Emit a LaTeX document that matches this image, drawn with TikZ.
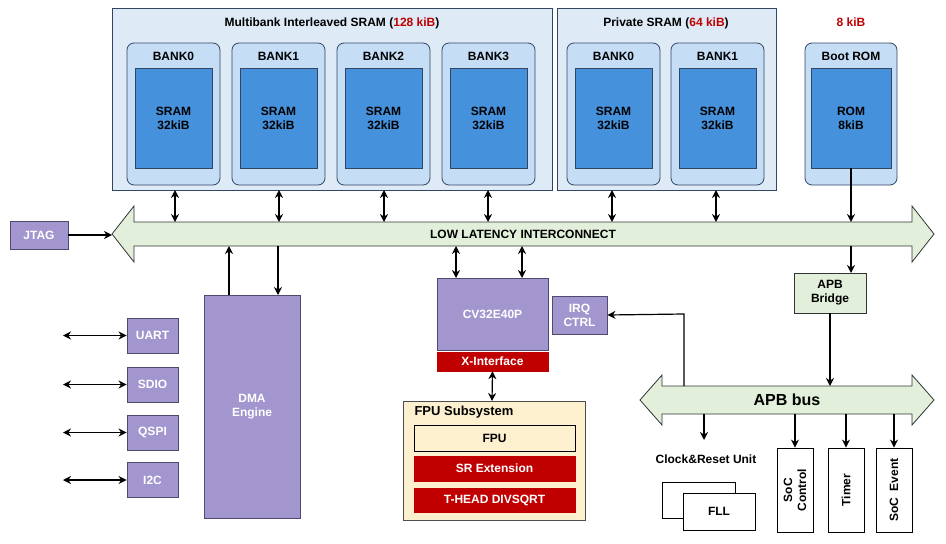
\documentclass[tikz,border=0pt]{standalone}
\usepackage{fontspec}
\setmainfont{Liberation Sans}
\usetikzlibrary{arrows.meta}
\definecolor{pur}{RGB}{163,149,205}
\definecolor{purd}{RGB}{80,75,110}
\definecolor{lb}{RGB}{222,234,246}
\definecolor{mb}{RGB}{197,221,245}
\definecolor{db}{RGB}{70,145,220}
\definecolor{bord}{RGB}{50,70,100}
\definecolor{rd}{RGB}{192,0,0}
\definecolor{grn}{RGB}{226,239,218}
\definecolor{yel}{RGB}{253,240,207}
\begin{document}
\begin{tikzpicture}[x=1pt,y=-1pt,font=\bfseries\fontsize{12}{14}\selectfont,
 pbox/.style={draw=purd,fill=pur,text=white,line width=0.9pt,align=center},
 rbox/.style={draw=rd,fill=rd,text=white,align=center},
 wbox/.style={draw=black,fill=white,line width=0.9pt,align=center},
 arr/.style={-{Stealth[length=8pt,width=8pt]},line width=1.2pt},
 darr/.style={{Stealth[length=8pt,width=8pt]}-{Stealth[length=8pt,width=8pt]},line width=1.2pt},
 bank/.style={draw=bord,fill=mb,rounded corners=7pt,line width=0.8pt},
 sram/.style={draw=bord,fill=db,line width=0.8pt,align=center},
 busst/.style={draw=black!80,fill=grn,line width=0.8pt}]
\useasboundingbox (0,0) rectangle (946,544);
% SRAM groups
\draw[fill=lb,draw=bord,line width=0.8pt] (112,8) rectangle (552,190);
\node at (332,23) {Multibank Interleaved SRAM (\textcolor{rd}{128 kiB})};
\draw[fill=lb,draw=bord,line width=0.8pt] (557,8) rectangle (776,190);
\node at (666,23) {Private SRAM (\textcolor{rd}{64 kiB})};
\node[text=rd] at (851,22) {8 kiB};
\foreach \x/\n/\t in {127/a/BANK0,232/b/BANK1,337/c/BANK2,442/d/BANK3,567/e/BANK0,671/f/BANK1}{
 \draw[bank] (\x,43) rectangle (\x+93,185);
 \node at (\x+46.5,56) {\t};
 \node[sram,minimum width=77pt,minimum height=100pt] (s\n) at (\x+46.5,118) {SRAM\\32kiB};
}
\draw[bank] (805,43) rectangle (897,185);
\node at (851,56) {Boot ROM};
\node[sram,minimum width=80pt,minimum height=100pt] (rom) at (851,118) {ROM\\8kiB};
% interconnect
\draw[busst] (112,234) -- (134,206) -- (134,222) -- (912,222) -- (912,206) -- (934,234) -- (912,262) -- (912,246) -- (134,246) -- (134,262) -- cycle;
\node (bus) at (523,234) {LOW LATENCY INTERCONNECT};
\foreach \x/\n in {175/a,279/b,384/c,488/d,612/e,716/f}{
 \draw[darr] (\x,190) -- (\x,222);
}
\draw[arr] (rom.south) -- (851,222);
\node[pbox,minimum width=58pt,minimum height=28pt] (jtag) at (39,235) {JTAG};
\draw[arr] (jtag.east) -- (112,235);
% DMA
\node[pbox,minimum width=96pt,minimum height=223pt] (dma) at (252,406.5) {DMA\\Engine};
\draw[arr] (229,295) -- (229,246);
\draw[arr] (278,246) -- (278,295);
\foreach \y/\t/\n in {335.5/UART/u,384.5/SDIO/s,432.5/QSPI/q,480/I2C/i}{
 \node[pbox,minimum width=51pt,minimum height=35pt] (\n) at (152.5,\y) {\t};
 \coordinate (\n l) at (63,\y);
 \draw[darr] (\n l) -- (\n.west);
}
% CPU
\node[pbox,minimum width=111pt,minimum height=72pt] (cpu) at (492.5,314) {CV32E40P};
\draw[darr] (456,246) -- (456,278);
\draw[darr] (522,246) -- (522,278);
\node[pbox,minimum width=55pt,minimum height=38pt,inner sep=1pt] (irq) at (579.5,315) {IRQ\\CTRL};
\node[rbox,minimum width=111pt,minimum height=19pt,inner sep=0pt] (xif) at (492.5,361.5) {X-Interface};
\draw[fill=yel,draw=black!70,line width=0.8pt] (403,401) rectangle (585,520);
\node[anchor=west,font=\bfseries\fontsize{13}{15}\selectfont] at (411,412) {FPU Subsystem};
\draw[darr] (xif.south) -- (492,401);
\node[draw=black,fill=yel,line width=0.8pt,minimum width=161pt,minimum height=26pt] (fpu) at (494.5,438) {FPU};
\node[rbox,minimum width=161pt,minimum height=25pt] (sr) at (494.5,468.5) {SR Extension};
\node[rbox,minimum width=161pt,minimum height=24pt] (th) at (494.5,500) {T-HEAD DIVSQRT};
% APB
\node[draw=black!80,fill=grn,line width=0.8pt,minimum width=72pt,minimum height=40pt,align=center] (br) at (830,293) {APB\\Bridge};
\draw[arr] (851,246) -- (851,273);
\draw[busst] (640,400) -- (662,375) -- (662,386) -- (912,386) -- (912,375) -- (934,400) -- (912,425) -- (912,414) -- (662,414) -- (662,425) -- cycle;
\node[font=\bfseries\fontsize{16}{18}\selectfont] (apb) at (787,400) {APB bus};
\draw[arr] (br.south) -- (830,386);
\draw[arr] (684,386) -- (684,314) -- (irq.east);
\draw[arr] (704,414) -- (704,440);
\node at (706,459) {Clock\&Reset Unit};
\draw[wbox] (662,482) rectangle (735,518);
\node[wbox,minimum width=72pt,minimum height=37pt] (fll) at (719,511.5) {FLL};
\foreach \x/\t/\n in {795/{SoC\\Control}/sc,846/Timer/tm,894/{SoC\enspace Event}/se}{
 \node[wbox,minimum width=36pt,minimum height=84pt] (\n) at (\x,490) {};
 \node[rotate=90,align=center] at (\x,490) {\t};
 \draw[arr] (\x,414) -- (\n.north);
}
\end{tikzpicture}
\end{document}
